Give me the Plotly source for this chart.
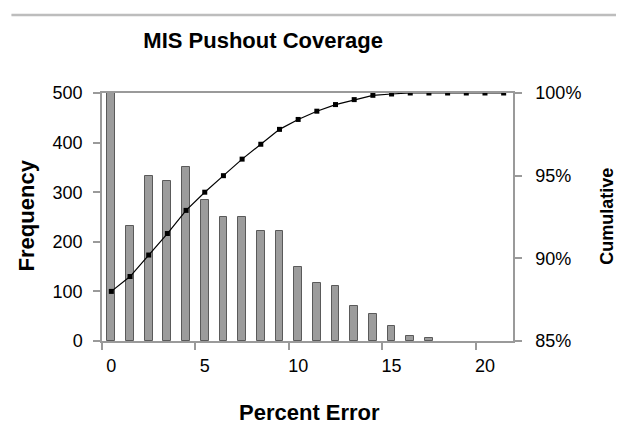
import plotly.graph_objects as go

categories = list(range(22))
frequency = [500, 232, 332, 322, 350, 284, 251, 250, 222, 222, 150, 117, 111, 71, 54, 31, 9.5, 6, 0, 0, 0, 0]
cumulative = [0.880, 0.889, 0.902, 0.915, 0.929, 0.940, 0.950, 0.960, 0.969, 0.978, 0.984, 0.989,
              0.993, 0.996, 0.9986, 0.9994, 1.0, 1.0, 1.0, 1.0, 1.0, 1.0]
x_tick_vals = [0, 5, 10, 15, 20]
y_tick_vals = [0, 100, 200, 300, 400, 500]
y2_tick_vals = [0.85, 0.90, 0.95, 1.00]
y2_tick_text = ["85%", "90%", "95%", "100%"]

FONT = "Liberation Sans, Arial, sans-serif"
AXIS_COL = "#9a9a9a"

# page has an 8px body margin; the figure is sized to fill the rest of the window
fig = go.Figure()
fig.add_trace(go.Bar(
    x=categories, y=frequency, width=0.42,
    marker=dict(color="#9c9c9c",
                line=dict(color="#5a5a5a", width=[1 if v > 0 else 0 for v in frequency])),
    name="Frequency", yaxis="y",
))
fig.add_trace(go.Scatter(
    x=categories, y=cumulative, mode="lines+markers",
    line=dict(color="black", width=1.2),
    marker=dict(symbol="square", size=5, color="black"),
    name="Cumulative", yaxis="y2",
))

fig.update_layout(
    width=616, height=425,
    margin=dict(l=94, r=111, t=85, b=92),
    paper_bgcolor="white", plot_bgcolor="white",
    showlegend=False,
    font=dict(family=FONT, color="black", size=18),
    title=dict(text="<b>MIS Pushout Coverage</b>", x=0.392, xref="paper", xanchor="center",
               y=1 - 32 / 425, yref="container", yanchor="middle",
               font=dict(size=22, family=FONT)),
    bargap=0,
    xaxis=dict(
        range=[-0.5, 21.5], tickmode="array", tickvals=x_tick_vals,
        ticks="", showgrid=False, zeroline=False,
        showline=True, linecolor=AXIS_COL, linewidth=1.5, mirror=True,
        tickfont=dict(size=18), ticklabelstandoff=8,
        minor=dict(tick0=-0.5, dtick=5, ticks="outside", ticklen=7, tickcolor=AXIS_COL, tickwidth=1.5, showgrid=False),
    ),
    yaxis=dict(
        range=[0, 500], tickmode="array", tickvals=y_tick_vals,
        ticks="outside", ticklen=7, tickcolor=AXIS_COL, tickwidth=1.5,
        showgrid=False, zeroline=False,
        showline=True, linecolor=AXIS_COL, linewidth=1.5,
        tickfont=dict(size=18), ticklabelstandoff=7,
    ),
    yaxis2=dict(
        range=[0.85, 1.0], overlaying="y", side="right",
        tickmode="array", tickvals=y2_tick_vals, ticktext=y2_tick_text,
        ticks="outside", ticklen=7, tickcolor=AXIS_COL, tickwidth=1.5,
        showgrid=False, zeroline=False,
        showline=True, linecolor=AXIS_COL, linewidth=1.5,
        tickfont=dict(size=18), ticklabelstandoff=10,
    ),
    annotations=[
        dict(text="<b>Frequency</b>", xref="paper", yref="paper", x=-0.184, y=0.508,
             textangle=-90, showarrow=False, font=dict(size=22), xanchor="center", yanchor="middle"),
        dict(text="<b>Cumulative</b>", xref="paper", yref="paper", x=1.2267, y=0.502,
             textangle=-90, showarrow=False, font=dict(size=18), xanchor="center", yanchor="middle"),
        dict(text="<b>Percent Error</b>", xref="paper", yref="paper", x=0.504, y=-0.29,
             showarrow=False, font=dict(size=22), xanchor="center", yanchor="middle"),
    ],
    shapes=[
        dict(type="line", xref="paper", yref="paper", x0=-0.2204, x1=1.27, y0=1.3145, y1=1.3145,
             line=dict(color="#bdbdbd", width=2.5)),
    ],
)

fig.write_html("out.html")
